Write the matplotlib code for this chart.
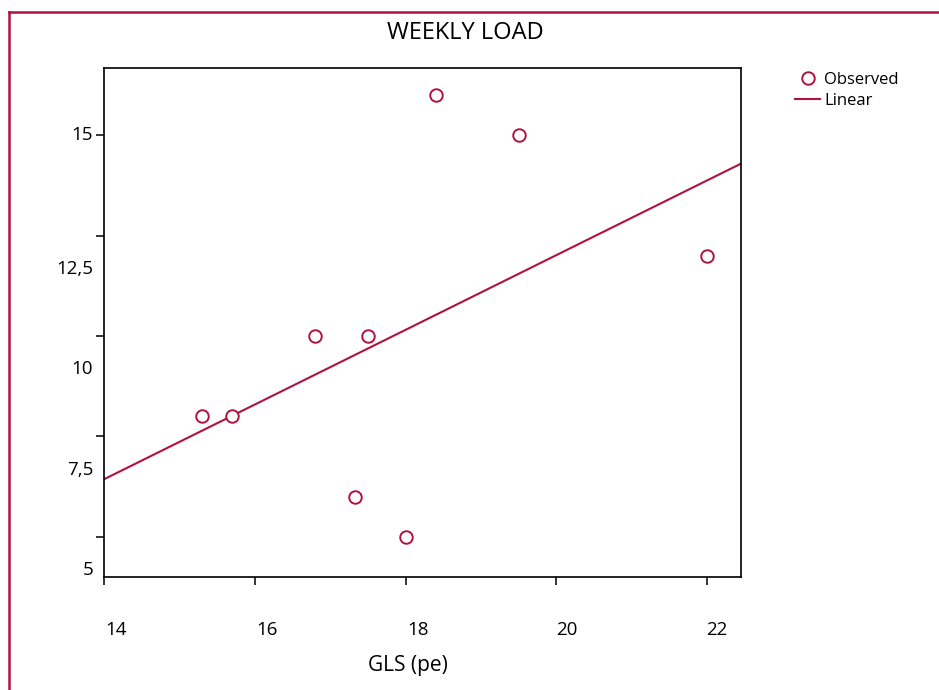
import numpy as np
import matplotlib
matplotlib.use("Agg")
import matplotlib.pyplot as plt
from matplotlib.lines import Line2D
from matplotlib.transforms import ScaledTranslation

plt.rcParams['font.family'] = ['Open Sans', 'DejaVu Sans']

# observed values
gls = [15.3, 15.7, 16.8, 17.5, 17.33, 18.0, 18.4, 19.5, 22.0]
load = [8, 8, 10, 10, 6, 5, 16, 15, 12]

xticks = [14, 16, 18, 20, 22]
xtick_labels = ["14", "16", "18", "20", "22"]
xlabel_at = [14.16, 16.16, 18.16, 20.14, 22.13]

yticks = [5, 7.5, 10, 12.5, 15]
ytick_labels = ["5", "7,5", "10", "12,5", "15"]
ylabel_at = [4.17, 6.67, 9.17, 11.67, 15.0]

RED = "#B01240"

fig = plt.figure(figsize=(9.39, 6.90), dpi=100)
ax = fig.add_axes([104/939, 113/690, 637/939, 509/690])

ax.set_xlim(14, 22.45)
ax.set_ylim(4.0, 16.67)

# linear fit
slope, icpt = np.polyfit(gls, load, 1)
xs = np.array(ax.get_xlim())
ax.plot(xs, slope * xs + icpt, color=RED, lw=1.5, label="Linear", zorder=2)
ax.plot(gls, load, 'o', mfc='white', mec=RED, mew=1.4, ms=9, label="Observed",
        zorder=3, clip_on=False)

for s in ax.spines.values():
    s.set_linewidth(1.2)
ax.set_xticks(xticks)
ax.set_yticks(yticks)
ax.set_xticklabels([])
ax.set_yticklabels([])
ax.tick_params(direction='out', length=6, width=1.1)

# tick labels, drawn apart from the ticks as in the source
tx = ax.get_xaxis_transform() + ScaledTranslation(0, -53/100, fig.dpi_scale_trans)
for v, t in zip(xlabel_at, xtick_labels):
    ax.text(v, 0, t, transform=tx, ha='center', va='center', fontsize=13.5)
ty = ax.get_yaxis_transform() + ScaledTranslation(-11/100, 0, fig.dpi_scale_trans)
for v, t in zip(ylabel_at, ytick_labels):
    ax.text(0, v, t, transform=ty, ha='right', va='center', fontsize=13.5)

fig.text(408/939, 1-666/690, "GLS (pe)", ha='center', va='center', fontsize=15)
fig.text(465/939, 1-33/690, "WEEKLY LOAD", ha='center', va='center', fontsize=17)

h, l = ax.get_legend_handles_labels()
fig.legend(h[::-1], l[::-1], loc='upper left', bbox_to_anchor=(795/939, 1-72/690),
           frameon=False, fontsize=12, borderpad=0, borderaxespad=0,
           handlelength=1.5, handletextpad=0.25, labelspacing=0.3)

# frame around the figure
fig.add_artist(Line2D([9/939, 9/939], [0, 1-12/690], color=RED, lw=1.8,
                      transform=fig.transFigure))
fig.add_artist(Line2D([9/939, 1], [1-12/690, 1-12/690], color=RED, lw=1.8,
                      transform=fig.transFigure))

fig.savefig("out.png", dpi=100)
